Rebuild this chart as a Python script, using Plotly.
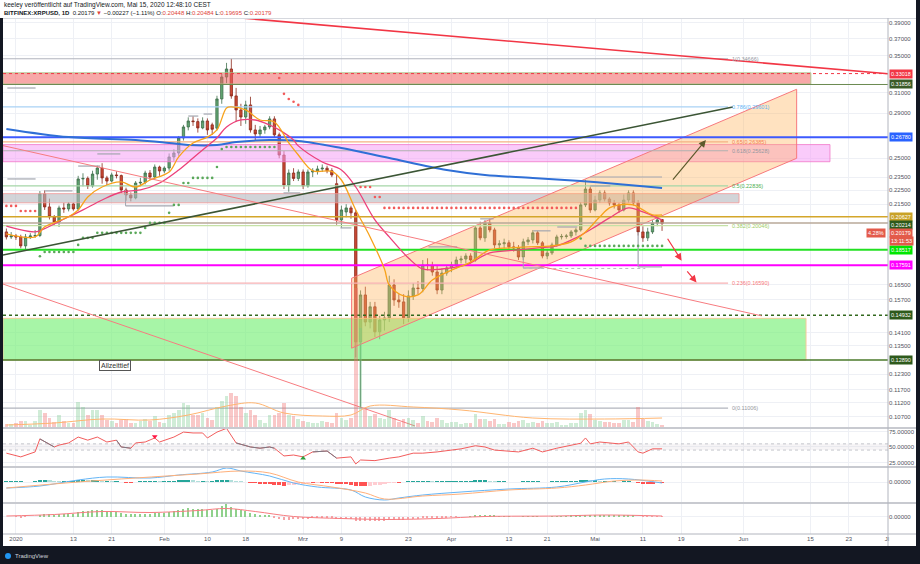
import numpy as np
import pandas as pd
import plotly.graph_objects as go

# ---------------- DATA ----------------
start = pd.Timestamp("2019-12-30")

opens = [
    .1963, .1931, .1937, .1931, .1875, .1931, .1937, .1940, .2224, .2131,
    .2063, .2028, .2124, .2117, .2152, .2117, .2336, .2340, .2283, .2374,
    .2421, .2344, .2320, .2367, .2362, .2253, .2216, .2195, .2305, .2310,
    .2382, .2351, .2429, .2398, .2421, .2511, .2544, .2673, .2771, .2826,
    .2820, .2762, .2826, .2790, .2760, .3038, .3265, .3352, .3068, .2930,
    .2863, .2979, .2744, .2708, .2744, .2771, .2845, .2700, .2527, .2290,
    .2382, .2340, .2390, .2283, .2390, .2398, .2414, .2420, .2400, .2300,
    .2042, .2096, .2124, .2090, .1368, .1596, .1460, .1535, .1414, .1470,
    .1480, .1649, .1570, .1560, .1480, .1591, .1633, .1630, .1761, .1758,
    .1721, .1622, .1715, .1744, .1761, .1790, .1796, .1814, .1790, .1989,
    .1925, .2022, .1976, .1881, .1888, .1894, .1869, .1863, .1808, .1900,
    .1912, .1957, .1894, .1814, .1832, .1881, .1931, .1934, .1937, .1963,
    .1976, .2145, .2260, .2110, .2180, .2231, .2187, .2159, .2145, .2110,
    .2180, .2231, .2159, .1963, .1925, .1963, .2022, .20448]
highs = [
    .1985, .1962, .1950, .1945, .1950, .1955, .1975, .2245, .2250, .2190,
    .2075, .2140, .2160, .2165, .2160, .2360, .2380, .2355, .2400, .2440,
    .2460, .2360, .2385, .2395, .2370, .2270, .2235, .2320, .2345, .2400,
    .2405, .2450, .2440, .2435, .2540, .2575, .2690, .2790, .2860, .2870,
    .2850, .2860, .2850, .2810, .3070, .3300, .3420, .34666, .3150, .2990,
    .3020, .3060, .2790, .2780, .2790, .2870, .2870, .2720, .2560, .2410,
    .2420, .2410, .2410, .2410, .2420, .2440, .2450, .2440, .2420, .2370,
    .2140, .2150, .2140, .2110, .1620, .1640, .1560, .1560, .1490, .1510,
    .1700, .1680, .1600, .1600, .1620, .1660, .1670, .1790, .1800, .1780,
    .1760, .1740, .1760, .1780, .1810, .1815, .1830, .1830, .2000, .2030,
    .2040, .2050, .1990, .1910, .1920, .1910, .1900, .1880, .1920, .1930,
    .1975, .1970, .1905, .1850, .1895, .1945, .1950, .1950, .1975, .1990,
    .2165, .2330, .2280, .2210, .2250, .2250, .2200, .2180, .2160, .2220,
    .2250, .2250, .2180, .2000, .1990, .2040, .2060, .20484]
lows = [
    .1915, .1918, .1912, .1860, .1850, .1918, .1925, .1930, .2110, .2045,
    .2010, .1995, .2090, .2100, .2105, .2105, .2280, .2260, .2270, .2330,
    .2300, .2290, .2310, .2340, .2230, .2175, .2170, .2185, .2280, .2295,
    .2330, .2330, .2360, .2380, .2400, .2480, .2520, .2650, .2740, .2780,
    .2720, .2750, .2700, .2700, .2740, .2990, .3200, .3040, .2820, .2780,
    .2800, .2720, .2650, .2680, .2710, .2750, .2680, .2500, .2260, .2240,
    .2320, .2320, .2260, .2270, .2350, .2370, .2390, .2380, .2350, .2010,
    .1990, .2060, .2050, .1300, .11006, .1440, .1430, .1390, .1380, .1420,
    .1460, .1540, .1530, .1450, .1460, .1570, .1600, .1610, .1730, .1700,
    .1600, .1600, .1700, .1720, .1740, .1770, .1770, .1770, .1780, .1910,
    .1900, .1960, .1860, .1850, .1860, .1850, .1840, .1790, .1790, .1880,
    .1890, .1880, .1800, .1795, .1820, .1870, .1915, .1920, .1925, .1940,
    .1965, .2130, .2090, .2100, .2160, .2170, .2140, .2120, .2090, .2100,
    .2160, .2140, .1940, .1900, .1905, .1950, .2000, .19695]
closes = [
    .1931, .1937, .1931, .1875, .1931, .1937, .1940, .2224, .2131, .2063,
    .2028, .2124, .2117, .2152, .2117, .2336, .2340, .2283, .2374, .2421,
    .2344, .2320, .2367, .2362, .2253, .2216, .2195, .2305, .2310, .2382,
    .2351, .2429, .2398, .2421, .2511, .2544, .2673, .2771, .2826, .2820,
    .2762, .2826, .2744, .2750, .3038, .3265, .3352, .3068, .2930, .2863,
    .2979, .2744, .2708, .2744, .2771, .2845, .2700, .2527, .2290, .2382,
    .2340, .2390, .2283, .2390, .2398, .2414, .2420, .2400, .2367, .2042,
    .2110, .2124, .2090, .1368, .1596, .1460, .1535, .1414, .1470, .1480,
    .1649, .1570, .1560, .1480, .1591, .1633, .1630, .1761, .1758, .1721,
    .1622, .1715, .1744, .1761, .1790, .1796, .1814, .1790, .1989, .1925,
    .2022, .1976, .1881, .1888, .1894, .1869, .1863, .1808, .1900, .1912,
    .1957, .1894, .1814, .1832, .1881, .1931, .1934, .1937, .1963, .1976,
    .2145, .2260, .2110, .2180, .2231, .2187, .2159, .2145, .2110, .2180,
    .2231, .2159, .1963, .1925, .1963, .2022, .2042, .20179]
volume_m = [
    8, 8, 10, 14, 14, 6, 14, 36, 30, 20,
    12, 26, 14, 10, 10, 52, 42, 26, 36, 36,
    26, 16, 14, 10, 16, 18, 10, 10, 14, 18,
    14, 24, 12, 10, 26, 30, 36, 50, 46, 26,
    26, 30, 20, 16, 42, 54, 64, 70, 64, 42,
    30, 36, 26, 16, 10, 26, 26, 30, 50, 26,
    24, 18, 14, 12, 10, 10, 14, 12, 10, 30,
    20, 16, 20, 280, 200, 40, 24, 28, 20, 18,
    36, 20, 12, 18, 20, 16, 10, 24, 14, 12,
    20, 16, 10, 12, 12, 8, 10, 10, 28, 18,
    18, 14, 18, 8, 8, 12, 10, 14, 16, 10,
    12, 10, 14, 10, 10, 12, 6, 6, 10, 10,
    30, 36, 28, 16, 14, 12, 12, 10, 10, 16,
    16, 12, 42, 18, 14, 12, 8, 6]
vol_ma_day = [0, 10, 20, 30, 38, 46, 52, 58, 66, 72, 76, 85, 95, 110, 125, 137]
vol_ma_val = [6, 10, 18, 16, 26, 44, 50, 30, 24, 26, 44, 42, 36, 20, 18, 20]

ma200_day = [0, 13, 27, 34, 38, 44, 48, 55, 61, 70, 80, 92, 100, 110, 120, 130, 137]
ma200_val = [0.2753, 0.2680, 0.2655, 0.2629, 0.2612, 0.2612, 0.2638, 0.2655, 0.2647,
             0.2586, 0.2502, 0.2406, 0.2367, 0.2344, 0.2320, 0.2290, 0.2268]
ema_fast_day = [0, 6, 8, 13, 15, 17, 20, 24, 27, 30, 34, 36, 39, 42, 44, 46, 47, 50, 53, 56,
                59, 61, 64, 68, 70, 73, 76, 79, 80, 83, 86, 89, 93, 97, 101, 105, 109, 114,
                118, 121, 124, 126, 128, 131, 133, 135, 137]
ema_fast_val = [0.1950, 0.1931, 0.1996, 0.2063, 0.2110, 0.2202, 0.2275, 0.2313, 0.2275, 0.2328,
                0.2390, 0.2511, 0.2629, 0.2680, 0.2744, 0.2949, 0.2959, 0.2930, 0.2835, 0.2816,
                0.2629, 0.2527, 0.2400, 0.2395, 0.2328, 0.2110, 0.1931, 0.1738, 0.1649, 0.1591,
                0.1596, 0.1676, 0.1732, 0.1778, 0.1850, 0.1863, 0.1869, 0.1875, 0.1900, 0.1963,
                0.2063, 0.2124, 0.2145, 0.2145, 0.2110, 0.2076, 0.2076]
ema_slow_day = [0, 6, 8, 13, 16, 20, 24, 28, 32, 36, 39, 42, 44, 46, 49, 52, 55, 57, 60, 61,
                66, 70, 73, 77, 80, 84, 87, 91, 96, 101, 107, 111, 115, 119, 123, 126, 130,
                133, 136, 137]
ema_slow_val = [0.2000, 0.1963, 0.1985, 0.2063, 0.2110, 0.2180, 0.2238, 0.2253, 0.2305, 0.2406,
                0.2502, 0.2604, 0.2673, 0.2771, 0.2835, 0.2835, 0.2789, 0.2744, 0.2655, 0.2604,
                0.2470, 0.2406, 0.2275, 0.2042, 0.1931, 0.1802, 0.1738, 0.1738, 0.1761, 0.1832,
                0.1850, 0.1863, 0.1875, 0.1925, 0.1996, 0.2056, 0.2124, 0.2096, 0.2056, 0.2042]

# stop dots: (first day, last day, price)
stops_red = [(0, 2, 0.2138), (3, 6, 0.2103), (57, 57, 0.3254), (58, 58, 0.3089),
             (59, 59, 0.3038), (60, 60, 0.3010), (61, 61, 0.2979), (74, 76, 0.2275),
             (77, 78, 0.2202), (79, 119, 0.2124)]
stops_green = [(7, 7, 0.1812), (8, 14, 0.1838), (15, 15, 0.1881), (16, 18, 0.1925),
               (19, 28, 0.1957), (29, 29, 0.1989), (30, 33, 0.2022), (34, 34, 0.2090),
               (35, 36, 0.2145), (37, 38, 0.2305), (39, 43, 0.2344), (44, 44, 0.2429),
               (45, 45, 0.2578), (46, 56, 0.2595), (120, 120, 0.1921), (121, 137, 0.1875)]

rsi_day = [0, 3, 6, 7, 10, 11, 13, 15, 17, 19, 21, 23, 24, 26, 27, 29, 31, 32, 35, 37,
           39, 41, 42, 44, 46, 48, 51, 53, 55, 56, 58, 60, 62, 64, 67, 69, 72, 73, 74, 77,
           80, 82, 85, 87, 90, 95, 98, 100, 102, 107, 110, 112, 115, 120, 121, 122, 124, 128,
           130, 132, 133, 135, 137]
rsi_val = [40, 34, 42, 63, 50, 53, 56.5, 66, 61, 66, 58, 61, 50, 48, 56.5, 58, 64.5, 58, 66, 74,
           72.6, 72.6, 64.5, 74, 80, 56.5, 50, 48, 50, 48, 35.5, 37, 34, 42, 43.5, 32, 34, 22.6, 29, 28,
           32, 34, 40, 40, 42, 47, 52, 50, 45, 42, 48, 42, 48, 56, 64.5, 55, 58, 55,
           58, 42, 40, 47, 47]
rsi_gray_spans = [(7, 10), (23, 26), (48, 56), (64, 69)]

macd_day = [0, 7, 15, 21, 30, 36, 43, 46, 49, 55, 60, 65, 72, 75, 79, 82, 87, 95, 105, 115,
            121, 125, 130, 137]
macd_val = [-0.012, -0.008, 0.004, 0.010, 0.008, 0.014, 0.020, 0.028, 0.022, 0.012,
            -0.002, -0.010, -0.016, -0.030, -0.036, -0.032, -0.026, -0.020, -0.014, -0.010,
            0.0, 0.006, 0.006, -0.002]
signal_day = [0, 15, 27, 40, 49, 55, 61, 68, 75, 79, 87, 95, 105, 115, 121, 127, 132, 137]
signal_val = [-0.012, 0.0, 0.008, 0.016, 0.022, 0.018, 0.0, -0.010, -0.022, -0.034,
              -0.028, -0.024, -0.016, -0.012, -0.006, 0.002, 0.004, 0.002]
macd_hist = [
    0.001, 0.001, 0.001, 0.001, 0.0, 0.0, 0.001,
    0.003, 0.004, 0.003,
    0.002, 0.001, 0.001, 0.001, 0.001,
    0.003, 0.004, 0.003,
    0.003, 0.003, 0.002,
    0.002, 0.001, 0.001, 0.0, -0.001, -0.001, 0.0, 0.001, 0.001, 0.001, 0.002, 0.001, 0.001, 0.002, 0.002,
    0.003, 0.004, 0.004,
    0.003, 0.002, 0.002, 0.001, 0.001,
    0.003, 0.004, 0.005,
    0.003, 0.002, 0.001,
    0.0, -0.001, -0.002,
    -0.003, -0.004, -0.004, -0.005, -0.006, -0.007, -0.006, -0.005,
    -0.004, -0.003, -0.002, -0.002, -0.001, -0.001, -0.001, -0.002, -0.003, -0.003,
    -0.004, -0.005, -0.007, -0.008, -0.008, -0.007,
    -0.006, -0.005, -0.004, -0.002, -0.001, -0.001,
    0.0, 0.001, 0.001, 0.002, 0.002, 0.002, 0.001, 0.001,
    0.001, 0.001, 0.002, 0.002, 0.002, 0.002, 0.002, 0.003, 0.003, 0.003,
    0.002, 0.001, 0.001, 0.001, 0.0, 0.0, 0.0, 0.001, 0.001, 0.001,
    0.001, 0.0, 0.0, 0.001, 0.001, 0.001, 0.001, 0.002, 0.002, 0.003, 0.004, 0.003, 0.003, 0.002, 0.002,
    0.001, 0.001, 0.0, 0.001, 0.001, 0.0, -0.002, -0.003, -0.003, -0.003, -0.002, -0.002]
momentum = [
    0.0, 0.0, -0.001, -0.002, -0.001, 0.0, 0.0,
    0.004, 0.006, 0.005, 0.004, 0.005, 0.005, 0.006, 0.005,
    0.010, 0.012, 0.012, 0.013, 0.014, 0.013, 0.012, 0.012,
    0.010, 0.008, 0.006, 0.005, 0.006, 0.006,
    0.006, 0.006, 0.007, 0.007, 0.008, 0.010,
    0.012, 0.014, 0.016, 0.017, 0.016, 0.016,
    0.015, 0.014, 0.013, 0.016, 0.022,
    0.027,
    0.020, 0.016, 0.013, 0.011,
    0.007, 0.005, 0.004, 0.003, 0.002,
    -0.002, -0.004, -0.006, -0.006, -0.005, -0.005,
    -0.004, -0.004, -0.003, -0.003, -0.003, -0.003, -0.003, -0.005, -0.005, -0.005, -0.005,
    -0.008, -0.009, -0.009, -0.009, -0.009, -0.008, -0.008, -0.007, -0.007, -0.006, -0.006,
    -0.005, -0.005, -0.004, -0.003, -0.003, -0.003, -0.003,
    -0.002, -0.002, -0.001, -0.001, 0.0, 0.0, 0.001, 0.002, 0.002, 0.002, 0.002, 0.002,
    0.001, 0.001, 0.001, 0.0, 0.0, 0.001, 0.001, 0.001, 0.001, 0.0, 0.0, 0.001, 0.001,
    0.001, 0.001, 0.002, 0.002, 0.003, 0.004, 0.004, 0.004, 0.004, 0.004, 0.004, 0.004,
    0.004, 0.004, 0.003, 0.003, 0.0, -0.001, -0.001, -0.001, -0.001, -0.001]
mom_line_day = [0, 10, 20, 30, 40, 46, 52, 60, 70, 80, 90, 100, 115, 125, 137]
mom_line_val = [0.001, 0.004, 0.010, 0.008, 0.012, 0.016, 0.010, 0.0, -0.004, -0.006,
                -0.004, 0.0, 0.001, 0.003, 0.001]

# fibonacci retracement
fib_levels = ["0", "0.236", "0.382", "0.5", "0.618", "0.65", "0.786", "1"]
fib_prices = [0.11006, 0.16590, 0.20046, 0.22836, 0.25628, 0.26385, 0.29601, 0.34666]
fib_line_colors = ["#b2b5be", "#f7b2b4", "#c5e1a5", "#a5d6a7", "#b0b0b0", "#f4b183", "#a9d2f5", "#b2b5be"]
fib_text_colors = ["#9598a1", "#f7787c", "#9ccc65", "#4caf50", "#9598a1", "#f57f51", "#64b5f6", "#9598a1"]

# horizontal support / resistance levels (price, line colour, label bg)
level_prices = [0.33018, 0.31856, 0.26780, 0.20627, 0.20214, 0.18517, 0.17591, 0.14932, 0.12890]
level_colors = ["#f23645", "#6b8a50", "#3d5afe", "#d4a62a", "#b8a898", "#22e022", "#ff00ff", "#33691e", "#4b7a2b"]
level_dash = ["dot", "solid", "solid", "solid", "solid", "solid", "solid", "dot", "solid"]
level_width = [1, 1, 2, 1.5, 1.5, 2, 2, 1.5, 1.5]
label_bg = ["#f23645", "#3a5a26", "#2962ff", "#c9a227", "#2e5a1c", "#00e600", "#ff00ff", "#2e5a1c", "#2e5a1c"]
last_price = 0.20179

# zones (date_from, date_to, price_low, price_high, fill, border)
zones = [
    ("2019-12-29", "2020-06-15 02:00", 0.3190, 0.3310, "rgba(242,96,96,0.55)", "rgba(170,200,140,0.9)"),
    ("2019-12-29", "2020-06-19 02:00", 0.2472, 0.2615, "rgba(246,160,246,0.55)", "rgba(240,120,200,0.8)"),
    ("2019-12-29", "2020-05-31 02:00", 0.2160, 0.2226, "rgba(180,184,190,0.6)", "rgba(240,150,150,0.8)"),
    ("2019-12-29", "2020-06-14 02:00", 0.1289, 0.1478, "rgba(120,240,120,0.65)", "rgba(250,200,150,0.9)"),
]
channel_dates = ["2020-03-11 03:00", "2020-06-12 03:00", "2020-06-12 03:00", "2020-03-11 03:00"]
channel_prices = [0.1686, 0.3136, 0.2500, 0.1340]

# trend lines: (date0, price0, date1, price1, colour, width)
trendlines = [
    ("2019-12-29 07:00", 0.1820, "2020-05-29 19:00", 0.2959, "#3b5535", 1.6),
    ("2019-12-29 07:00", 0.2606, "2020-06-04 19:00", 0.1490, "#f77c80", 1.0),
    ("2019-12-29 07:00", 0.1654, "2020-03-24 09:00", 0.1038, "#f77c80", 1.0),
    ("2020-02-12 00:00", 0.3990, "2020-07-01 05:00", 0.3300, "#f23645", 1.6),
]
# range brackets drawn on the chart: (from day, to day, price)
brackets = [(8.1, 13.8, 0.2246), (15.0, 19.6, 0.2437), (19.0, 23.8, 0.2536), (38.0, 40.1, 0.2872),
            (41.2, 43.0, 0.2891), (24.9, 34.9, 0.2138), (57.9, 61.4, 0.2231), (69.8, 72.1, 0.1989),
            (88.2, 94.2, 0.1869), (99.0, 101.8, 0.2049), (108.0, 112.2, 0.1744), (110.1, 113.7, 0.1970),
            (115.1, 119.3, 0.1995), (122.0, 126.2, 0.2283), (132.0, 137.0, 0.1750), (122.0, 137.0, 0.2351),
            (0.2, 6.1, 0.3149), (0.2, 6.1, 0.2336)]

# arrows: (tail date, tail price, head date, head price, colour)
arrows = [
    ("2020-05-17 00:00", 0.2320, "2020-05-24 04:00", 0.2655, "#5d5a2c"),
    ("2020-05-15 23:00", 0.1929, "2020-05-19 02:00", 0.1786, "#f23645"),
    ("2020-05-20 00:00", 0.1733, "2020-05-22 05:00", 0.1662, "#f23645"),
]

price_ticks = [0.39, 0.37, 0.35, 0.31, 0.29, 0.25, 0.235, 0.225, 0.215, 0.165, 0.157,
               0.141, 0.135, 0.123, 0.117, 0.112, 0.107]
date_ticks = ["2020-01-01", "2020-01-13", "2020-01-21", "2020-02-01", "2020-02-10", "2020-02-18",
              "2020-03-01", "2020-03-09", "2020-03-23", "2020-04-01", "2020-04-13", "2020-04-21",
              "2020-05-01", "2020-05-11", "2020-05-19", "2020-06-01", "2020-06-15", "2020-06-23",
              "2020-07-01"]
date_labels = ["2020", "13", "21", "Feb", "10", "18", "Mrz", "9", "23", "Apr", "13", "21",
               "Mai", "11", "19", "Jun", "15", "23", "Jl"]

# ---------------- FIGURE ----------------
W, H = 920, 564
dates = pd.date_range(start, periods=len(closes), freq="D")
def day(d):
    return start + pd.Timedelta(days=d)

x_left = pd.Timestamp("2019-12-29 07:00")
x_right = pd.Timestamp("2020-07-01 05:00")
fib_end = pd.Timestamp("2020-05-28 19:00")
FONT = "Arial, Liberation Sans, sans-serif"

def py(px):  # paper y from pixel
    return 1 - px / H
def pxx(px):
    return px / W

fig = go.Figure()

def line(x, y, color, width=1, dash="solid", yaxis="y", shape="linear", opacity=1.0):
    fig.add_trace(go.Scatter(x=x, y=y, mode="lines", yaxis=yaxis, hoverinfo="skip",
                             line=dict(color=color, width=width, dash=dash, shape=shape),
                             opacity=opacity, showlegend=False))

# zones
for d0, d1, p0, p1, fc, bc in zones:
    x0 = x_left if d0 == "2019-12-29" else pd.Timestamp(d0)
    fig.add_trace(go.Scatter(x=[x0, pd.Timestamp(d1), pd.Timestamp(d1), x0, x0],
                             y=[p0, p0, p1, p1, p0], fill="toself", fillcolor=fc, mode="lines",
                             line=dict(color=bc, width=1), hoverinfo="skip", showlegend=False))

# channel
fig.add_trace(go.Scatter(x=[pd.Timestamp(d) for d in channel_dates + channel_dates[:1]],
                         y=channel_prices + channel_prices[:1], fill="toself",
                         fillcolor="rgba(255,180,90,0.38)", mode="lines",
                         line=dict(color="#f7787c", width=1), hoverinfo="skip", showlegend=False))

# fib lines
for lv, pr, lc in zip(fib_levels, fib_prices, fib_line_colors):
    line([x_left, fib_end], [pr, pr], lc, 1.2)

# horizontal levels full width
for pr, c, ds, w in zip(level_prices, level_colors, level_dash, level_width):
    line([x_left, x_right], [pr, pr], c, w, ds)

# brackets
for a, b, pr in brackets:
    line([day(a), day(b)], [pr, pr], "#a3a6af", 1.2)
line([day(132), day(132)], [0.1963, 0.1750], "#a3a6af", 1.2)
line([day(108), day(108)], [0.1808, 0.1744], "#a3a6af", 1.0)
line([day(24.9), day(24.9)], [0.2253, 0.2138], "#a3a6af", 1.0)
line([day(108), day(133.5)], [0.1741, 0.1741], "#b8bac0", 1.0, "dot")

# volume (overlay)
vcol = ["rgba(120,200,140,0.35)" if c >= o else "rgba(240,110,110,0.38)" for o, c in zip(opens, closes)]
fig.add_trace(go.Bar(x=dates, y=volume_m, yaxis="y5", marker=dict(color=vcol, line=dict(width=0)),
                     width=0.78 * 86400000, hoverinfo="skip", showlegend=False))
fig.add_trace(go.Scatter(x=[day(d) for d in vol_ma_day], y=vol_ma_val, yaxis="y5", mode="lines",
                         line=dict(color="#ffb570", width=1, shape="spline"), hoverinfo="skip",
                         showlegend=False))

# candles
fig.add_trace(go.Candlestick(x=dates, open=opens, high=highs, low=lows, close=closes,
                             increasing=dict(line=dict(color="#3f6f4b", width=0.8), fillcolor="#62a572"),
                             decreasing=dict(line=dict(color="#8c2a1c", width=0.8), fillcolor="#cc4a35"),
                             whiskerwidth=0, hoverinfo="skip", showlegend=False))

# moving averages
line([day(d) for d in ma200_day], ma200_val, "#2f6fd6", 2, shape="spline")
line([day(d) for d in ema_slow_day], ema_slow_val, "#ec407a", 1.3, shape="spline")
line([day(d) for d in ema_fast_day], ema_fast_val, "#f7a21b", 1.3, shape="spline")

# stop dots
for spans, col in ((stops_red, "#f25a5a"), (stops_green, "#5aa85a")):
    xs, ys = [], []
    for a, b, pr in spans:
        for k in range(a, b + 1):
            xs.append(day(k)); ys.append(pr)
    fig.add_trace(go.Scatter(x=xs, y=ys, mode="markers", marker=dict(color=col, size=2.6),
                             hoverinfo="skip", showlegend=False))

# trend lines
for d0, p0, d1, p1, c, w in trendlines:
    line([pd.Timestamp(d0), pd.Timestamp(d1)], [p0, p1], c, w)

# ---- RSI ----
fig.add_trace(go.Scatter(x=[x_left, x_right, x_right, x_left], y=[45, 45, 55, 55], fill="toself",
                         fillcolor="rgba(220,210,220,0.25)", mode="lines", line=dict(width=0),
                         yaxis="y2", hoverinfo="skip", showlegend=False))
line([x_left, x_right], [55, 55], "#c4c6cc", 1, "dot", yaxis="y2")
line([x_left, x_right], [45, 45], "#c4c6cc", 1, "dot", yaxis="y2")
line([day(d) for d in rsi_day], rsi_val, "#f25c5c", 1, yaxis="y2")
for a, b in rsi_gray_spans:
    idx = [k for k, d in enumerate(rsi_day) if a <= d <= b]
    line([day(rsi_day[k]) for k in idx], [rsi_val[k] for k in idx], "#787b86", 1, yaxis="y2")
fig.add_trace(go.Scatter(x=[day(31)], y=[67], yaxis="y2", mode="markers",
                         marker=dict(symbol="triangle-down", color="#ff1744", size=5),
                         hoverinfo="skip", showlegend=False))
fig.add_trace(go.Scatter(x=[day(62)], y=[32], yaxis="y2", mode="markers",
                         marker=dict(symbol="triangle-up", color="#2e9e3e", size=5),
                         hoverinfo="skip", showlegend=False))

# ---- MACD ----
hcol = []
for k, v in enumerate(macd_hist):
    prev = macd_hist[k - 1] if k else v
    if v >= 0:
        hcol.append("#26a69a" if v >= prev else "#b2dfdb")
    else:
        hcol.append("#ff5252" if v <= prev else "#ffcdd2")
fig.add_trace(go.Bar(x=dates, y=macd_hist, yaxis="y3", marker=dict(color=hcol, line=dict(width=0)),
                     width=0.85 * 86400000, hoverinfo="skip", showlegend=False))
line([day(d) for d in macd_day], macd_val, "#64b5f6", 1, yaxis="y3", shape="spline")
line([day(d) for d in signal_day], signal_val, "#ffb07a", 1, yaxis="y3", shape="spline")

# ---- third oscillator ----
mcol = ["#8fd18c" if v >= 0 else "#f5a3a6" for v in momentum]
fig.add_trace(go.Bar(x=dates, y=momentum, yaxis="y4", marker=dict(color=mcol, line=dict(width=0)),
                     width=0.3 * 86400000, hoverinfo="skip", showlegend=False))
line([day(d) for d in mom_line_day], mom_line_val, "#f77c80", 1, yaxis="y4", shape="spline")

# ---------------- ANNOTATIONS ----------------
ann = []
for lv, pr, tc in zip(fib_levels, fib_prices, fib_text_colors):
    ann.append(dict(x=pd.Timestamp("2020-05-29 06:00"), y=np.log10(pr), xref="x", yref="y",
                    text=f"{lv}({pr:.5f})", showarrow=False, xanchor="left", yanchor="middle",
                    font=dict(size=5.5, color=tc, family=FONT)))

label_shift = {0.20214: -2}
for pr, bg in zip(level_prices, label_bg):
    ann.append(dict(x=pxx(889), y=np.log10(pr), xref="paper", yref="y", text=f"{pr:.5f}",
                    showarrow=False, xanchor="left", yanchor="middle", bgcolor=bg, borderpad=1,
                    yshift=label_shift.get(pr, 0), font=dict(size=5.5, color="white", family=FONT)))
ann.append(dict(x=pxx(889), y=np.log10(last_price), xref="paper", yref="y", text=f"{last_price:.5f}",
                showarrow=False, xanchor="left", yanchor="middle", bgcolor="#e35a4a", borderpad=1,
                yshift=-9, font=dict(size=5.5, color="white", family=FONT)))
ann.append(dict(x=pxx(889), y=np.log10(last_price), xref="paper", yref="y", text="13:11:53",
                showarrow=False, xanchor="left", yanchor="middle", bgcolor="#e35a4a", borderpad=1,
                yshift=-17, font=dict(size=5.5, color="white", family=FONT)))
ann.append(dict(x=pxx(886), y=np.log10(last_price), xref="paper", yref="y", text="4.28%",
                showarrow=False, xanchor="right", yanchor="middle", bgcolor="#e35a4a", borderpad=1,
                yshift=-9, font=dict(size=5.5, color="white", family=FONT)))

for t0, p0, t1, p1, c in arrows:
    ann.append(dict(x=pd.Timestamp(t1), y=np.log10(p1), ax=pd.Timestamp(t0), ay=np.log10(p0),
                    xref="x", yref="y", axref="x", ayref="y", showarrow=True, arrowhead=2,
                    arrowsize=1.2, arrowwidth=1.2, arrowcolor=c, text=""))

ann.append(dict(x=pd.Timestamp("2020-01-21 17:00"), y=np.log10(0.1264), xref="x", yref="y",
                text="Allzeittief", showarrow=False, bordercolor="#555", borderwidth=1, borderpad=1,
                bgcolor="rgba(255,255,255,0.6)", font=dict(size=7, color="#333", family=FONT)))

ann.append(dict(x=pxx(2), y=py(5), xref="paper", yref="paper", xanchor="left", yanchor="middle",
                showarrow=False, font=dict(size=6.5, color="#131722", family=FONT),
                text="keeley veröffentlicht auf TradingView.com, Mai 15, 2020 12:48:10 CEST"))
red = "#e0443a"
hdr = (f"<b>BITFINEX:XRPUSD, 1D</b>  0.20179 <span style='color:{red}'>▼</span> −0.00227 (−1.11%) "
       f"O:<span style='color:{red}'>0.20448</span> H:<span style='color:{red}'>0.20484</span> "
       f"L:<span style='color:{red}'>0.19695</span> C:<span style='color:{red}'>0.20179</span>")
ann.append(dict(x=pxx(2), y=py(13.5), xref="paper", yref="paper", xanchor="left", yanchor="middle",
                showarrow=False, font=dict(size=6, color="#131722", family=FONT), text=hdr))
ann.append(dict(x=pxx(13), y=py(556), xref="paper", yref="paper", xanchor="left", yanchor="middle",
                showarrow=False, font=dict(size=6, color="#d1d4dc", family=FONT), text="TradingView"))

# ---------------- SHAPES (frame) ----------------
shapes = []
for yy in (428, 467, 503):
    shapes.append(dict(type="line", xref="paper", yref="paper", x0=pxx(3), x1=pxx(916),
                       y0=py(yy), y1=py(yy), line=dict(color="#c8cad0", width=2)))
shapes.append(dict(type="line", xref="paper", yref="paper", x0=pxx(3), x1=pxx(916), y0=py(534),
                   y1=py(534), line=dict(color="#b2b5be", width=1)))
shapes.append(dict(type="line", xref="paper", yref="paper", x0=pxx(3), x1=pxx(916), y0=py(18.5),
                   y1=py(18.5), line=dict(color="#d6d8de", width=1)))
shapes.append(dict(type="line", xref="paper", yref="paper", x0=pxx(888), x1=pxx(888), y0=py(18),
                   y1=py(546), line=dict(color="#b2b5be", width=1)))
shapes.append(dict(type="rect", xref="paper", yref="paper", x0=0, x1=pxx(3), y0=0, y1=py(18),
                   fillcolor="#131722", line=dict(width=0)))
shapes.append(dict(type="rect", xref="paper", yref="paper", x0=pxx(916), x1=1, y0=0, y1=1,
                   fillcolor="#131722", line=dict(width=0)))
shapes.append(dict(type="rect", xref="paper", yref="paper", x0=0, x1=1, y0=0, y1=py(546),
                   fillcolor="#131722", line=dict(width=0)))
shapes.append(dict(type="circle", xref="paper", yref="paper", x0=pxx(5), x1=pxx(11), y0=py(559),
                   y1=py(553), fillcolor="#2196f3", line=dict(width=0)))

tickfont = dict(size=6, color="#50535e", family=FONT)
fig.update_layout(
    width=W, height=H, margin=dict(l=0, r=0, t=0, b=0), paper_bgcolor="white", plot_bgcolor="white",
    showlegend=False, bargap=0, barmode="overlay", annotations=ann, shapes=shapes,
    xaxis=dict(type="date", range=[x_left, x_right], domain=[pxx(3), pxx(888)], anchor="y4",
               tickvals=date_ticks, ticktext=date_labels, tickfont=tickfont, showgrid=True,
               gridcolor="#eef0f5", gridwidth=1, ticks="", zeroline=False, rangeslider=dict(visible=False),
               fixedrange=True),
    yaxis=dict(type="log", domain=[py(428), py(18)], range=[np.log10(0.1031), np.log10(0.3963)],
               side="right", anchor="x", tickvals=price_ticks, ticktext=[f"{v:.5f}" for v in price_ticks],
               tickfont=tickfont, gridcolor="#eef0f5", zeroline=False, ticks=""),
    yaxis5=dict(overlaying="y", range=[0, 820], visible=False, fixedrange=True),
    yaxis2=dict(domain=[py(467), py(428)], range=[17.7, 80.6], side="right", anchor="x",
                tickvals=[25, 50, 75], ticktext=["25.00000", "50.00000", "75.00000"], tickfont=tickfont,
                gridcolor="#eef0f5", zeroline=False, ticks=""),
    yaxis3=dict(domain=[py(503), py(467)], range=[-0.042, 0.030], side="right", anchor="x",
                tickvals=[0], ticktext=["0.00000"], tickfont=tickfont, gridcolor="#eef0f5",
                zeroline=False, ticks=""),
    yaxis4=dict(domain=[py(534), py(503)], range=[-0.035, 0.027], side="right", anchor="x",
                tickvals=[0], ticktext=["0.00000"], tickfont=tickfont, gridcolor="#eef0f5",
                zeroline=False, ticks=""),
)

fig.write_html("out.html")
